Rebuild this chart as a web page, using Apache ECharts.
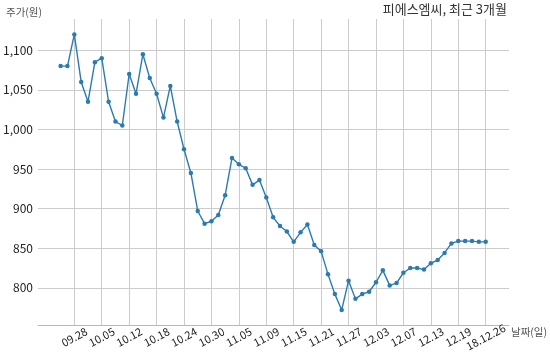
<!DOCTYPE html>
<html><head><meta charset="utf-8">
<script src="https://cdn.jsdelivr.net/npm/echarts@6/dist/echarts.min.js"></script>
<style>html,body{margin:0;padding:0;background:#fff}#c{width:550px;height:360px}</style>
</head><body><div id="c"></div>
<script>
var dates = ['09.21','09.27','09.28','10.01','10.02','10.04','10.05','10.08','10.10','10.11','10.12',
'10.15','10.16','10.17','10.18','10.19','10.22','10.23','10.24','10.25','10.26','10.29','10.30',
'10.31','11.01','11.02','11.05','11.06','11.07','11.08','11.09','11.12','11.13','11.14','11.15',
'11.16','11.19','11.20','11.21','11.22','11.23','11.26','11.27','11.28','11.29','11.30','12.03',
'12.04','12.05','12.06','12.07','12.10','12.11','12.12','12.13','12.14','12.17','12.18','12.19',
'12.20','12.21','12.24','12.26'];
var prices = [1080,1080,1120,1060,1035,1085,1090,1035,1010,1005,1070,
1045,1095,1065,1045,1015,1055,1010,975,945,897,881,884,
892,917,964,956,951,930,936,914,889,878,871,858,
870,880,854,846,817,792,772,809,786,792,795,807,
822,803,806,819,825,825,823,831,835,844,856,859,
859,859,858,858];
var tickDates = ['09.28','10.05','10.12','10.18','10.24','10.30','11.05','11.09','11.15','11.21','11.27','12.03','12.07','12.13','12.19','12.26'];
var tickTexts = ['09.28','10.05','10.12','10.18','10.24','10.30','11.05','11.09','11.15','11.21','11.27','12.03','12.07','12.13','12.19','18.12.26'];
var yTicks = [800,850,900,950,1000,1050,1100];
var title = '피에스엠씨, 최근 3개월';
var yName = '주가(원)';
var xName = '날짜(일)';

var tickIdx = tickDates.map(function(d){return dates.indexOf(d);});
var seriesData = prices.map(function(v,i){return [i,v];});
var FONT = '"Noto Sans CJK KR", "Noto Sans", sans-serif';
var chart = echarts.init(document.getElementById('c'), null, {renderer:'canvas'});
chart.setOption({
  animation:false,
  textStyle:{fontFamily:FONT},
  title:[
    {text:title, right:43, top:3, padding:0, textStyle:{fontFamily:FONT, fontSize:13, fontWeight:'normal', color:'#333'}},
    {text:yName, left:6, top:7, padding:0, textStyle:{fontFamily:FONT, fontSize:10.5, fontWeight:'normal', color:'#555'}},
    {text:xName, left:511, top:327, padding:0, textStyle:{fontFamily:FONT, fontSize:10.5, fontWeight:'normal', color:'#555'}}
  ],
  grid:{left:37, right:41, top:19, bottom:35, containLabel:false},
  xAxis:{
    type:'value', min:-3.3, max:65.4,
    axisLine:{show:true, lineStyle:{color:'#b8b8b8', width:1}},
    axisTick:{show:false, customValues:tickIdx},
    axisLabel:{customValues:tickIdx, rotate:28, align:'center', verticalAlign:'middle', margin:12,
      fontFamily:FONT, fontSize:11, color:'#222',
      formatter:function(v){var k=tickIdx.indexOf(Math.round(v)); return k>=0?tickTexts[k]:'';}},
    splitLine:{show:true, lineStyle:{color:'#cccccc', width:1}}
  },
  yAxis:{
    type:'value', min:753, max:1139.5,
    axisLine:{show:false},
    axisTick:{show:false, customValues:yTicks},
    axisLabel:{customValues:yTicks, fontFamily:FONT, fontSize:12, color:'#222', margin:5,
      formatter:function(v){return v.toLocaleString('en-US');}},
    splitLine:{show:true, lineStyle:{color:'#cccccc', width:1}}
  },
  series:[{
    type:'line', data:seriesData, symbol:'circle', symbolSize:4.5,
    lineStyle:{color:'#2b7bb0', width:1.4},
    itemStyle:{color:'#2b7bb0'}
  }]
});
</script></body></html>
